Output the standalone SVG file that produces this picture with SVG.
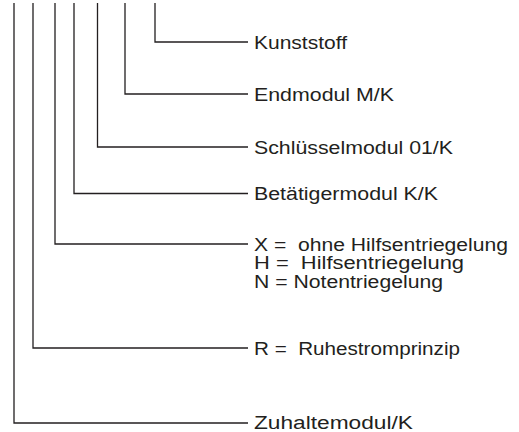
<svg xmlns="http://www.w3.org/2000/svg" width="519" height="432" viewBox="0 0 519 432">
<style>
.c{fill:none;stroke:#231f20;stroke-width:1.3}
.t{font-family:"Liberation Sans",Arial,sans-serif;font-size:18px;fill:#231f20}
</style>
<rect width="519" height="432" fill="#fff"/>
<g id="connectors">
<path class="c" d="M155,3V42H248"/>
<path class="c" d="M125,3V94H248"/>
<path class="c" d="M97.5,3V147H248"/>
<path class="c" d="M74,3V193.5H248"/>
<path class="c" d="M55,3V244H248"/>
<path class="c" d="M33,3V348H248"/>
<path class="c" d="M14,3V423H248"/>
</g>
<g id="kunststoff"><text class="t" x="254" y="48.5" textLength="93" lengthAdjust="spacingAndGlyphs">Kunststoff</text></g>
<g id="endmodul"><text class="t" x="254" y="100.5" textLength="140" lengthAdjust="spacingAndGlyphs">Endmodul M/K</text></g>
<g id="schluesselmodul"><text class="t" x="254" y="153.5" textLength="199" lengthAdjust="spacingAndGlyphs">Schlüsselmodul 01/K</text></g>
<g id="betaetigermodul"><text class="t" x="254" y="200" textLength="184" lengthAdjust="spacingAndGlyphs">Betätigermodul K/K</text></g>
<g id="entriegelung">
<text class="t" x="254" y="250.5" textLength="254" lengthAdjust="spacingAndGlyphs" xml:space="preserve">X =  ohne Hilfsentriegelung</text>
<text class="t" x="254" y="269" textLength="210" lengthAdjust="spacingAndGlyphs" xml:space="preserve">H =  Hilfsentriegelung</text>
<text class="t" x="254" y="287.5" textLength="189" lengthAdjust="spacingAndGlyphs">N = Notentriegelung</text>
</g>
<g id="ruhestrom"><text class="t" x="254" y="354.5" textLength="206" lengthAdjust="spacingAndGlyphs" xml:space="preserve">R =  Ruhestromprinzip</text></g>
<g id="zuhaltemodul"><text class="t" x="254" y="429" textLength="159" lengthAdjust="spacingAndGlyphs">Zuhaltemodul/K</text></g>
</svg>
